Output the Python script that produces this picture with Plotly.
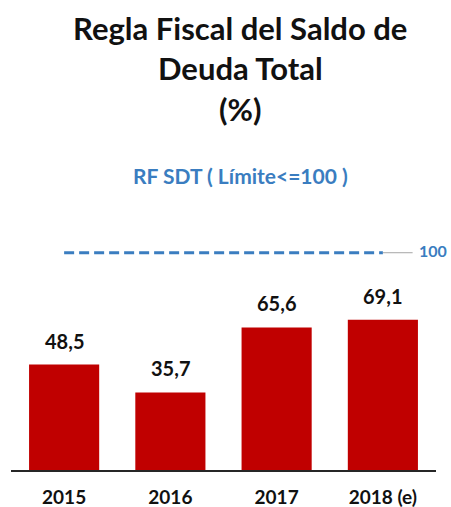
import plotly.graph_objects as go

categories = ["2015", "2016", "2017", "2018 (e)"]
values = [48.5, 35.7, 65.6, 69.1]
value_labels = ["48,5", "35,7", "65,6", "69,1"]
limit_value = 100
limit_label = "100"
title_lines = ["Regla Fiscal del Saldo de", "Deuda Total", "(%)"]
subtitle = "RF SDT ( Límite<=100 )"

FONT = "Lato"
BLUE = "#3A7DC0"
RED = "#C00000"

fig = go.Figure()
fig.add_trace(go.Bar(x=categories, y=values, marker=dict(color=RED, line=dict(width=0)),
                     width=0.66, hoverinfo="skip"))
fig.add_trace(go.Scatter(x=categories, y=[limit_value] * len(categories), mode="lines",
                         line=dict(color=BLUE, width=3, dash="10px,5px"), hoverinfo="skip"))

annotations = []
for i, (v, t) in enumerate(zip(values, value_labels)):
    annotations.append(dict(x=i, y=v, text=t, showarrow=False, yanchor="middle", yshift=24,
                            font=dict(family=FONT, size=20, color="#111111", weight="bold")))
annotations.append(dict(x=len(categories) - 1 + 0.33, y=limit_value, text=limit_label, showarrow=False,
                        xanchor="left", yanchor="middle", yshift=2, borderpad=0,
                        font=dict(family=FONT, size=16, color=BLUE, weight="bold")))
ys = [1.851, 1.682, 1.512]
for line, yy in zip(title_lines, ys):
    annotations.append(dict(xref="paper", yref="paper", x=0.539, y=yy, text=line, showarrow=False,
                            xanchor="center", yanchor="middle",
                            font=dict(family=FONT, size=31, color="#111111", weight="bold")))
annotations.append(dict(xref="paper", yref="paper", x=0.539, y=1.234, text=subtitle, showarrow=False,
                        xanchor="center", yanchor="middle",
                        font=dict(family=FONT, size=21, color=BLUE, weight="bold")))

fig.update_layout(
    width=451, height=507,
    margin=dict(l=11, r=15, t=231, b=37, autoexpand=False),
    paper_bgcolor="white", plot_bgcolor="white",
    showlegend=False,
    annotations=annotations,
    shapes=[dict(type="line", xref="x", yref="y", x0=3.0, x1=3.28, y0=limit_value, y1=limit_value,
                 line=dict(color="#A6A6A6", width=1))],
    xaxis=dict(range=[-0.5, 3.5], showline=True, linecolor="#262626", linewidth=1.5,
               showgrid=False, ticks="", ticklabelstandoff=9, automargin=False,
               tickfont=dict(family=FONT, size=19, color="#111111", weight="bold")),
    yaxis=dict(range=[0, 110], visible=False, showgrid=False, zeroline=False, automargin=False),
)
fig.write_html("out.html", config={"displayModeBar": False},
               post_script="document.body.style.margin='0';document.body.style.overflow='hidden';")
